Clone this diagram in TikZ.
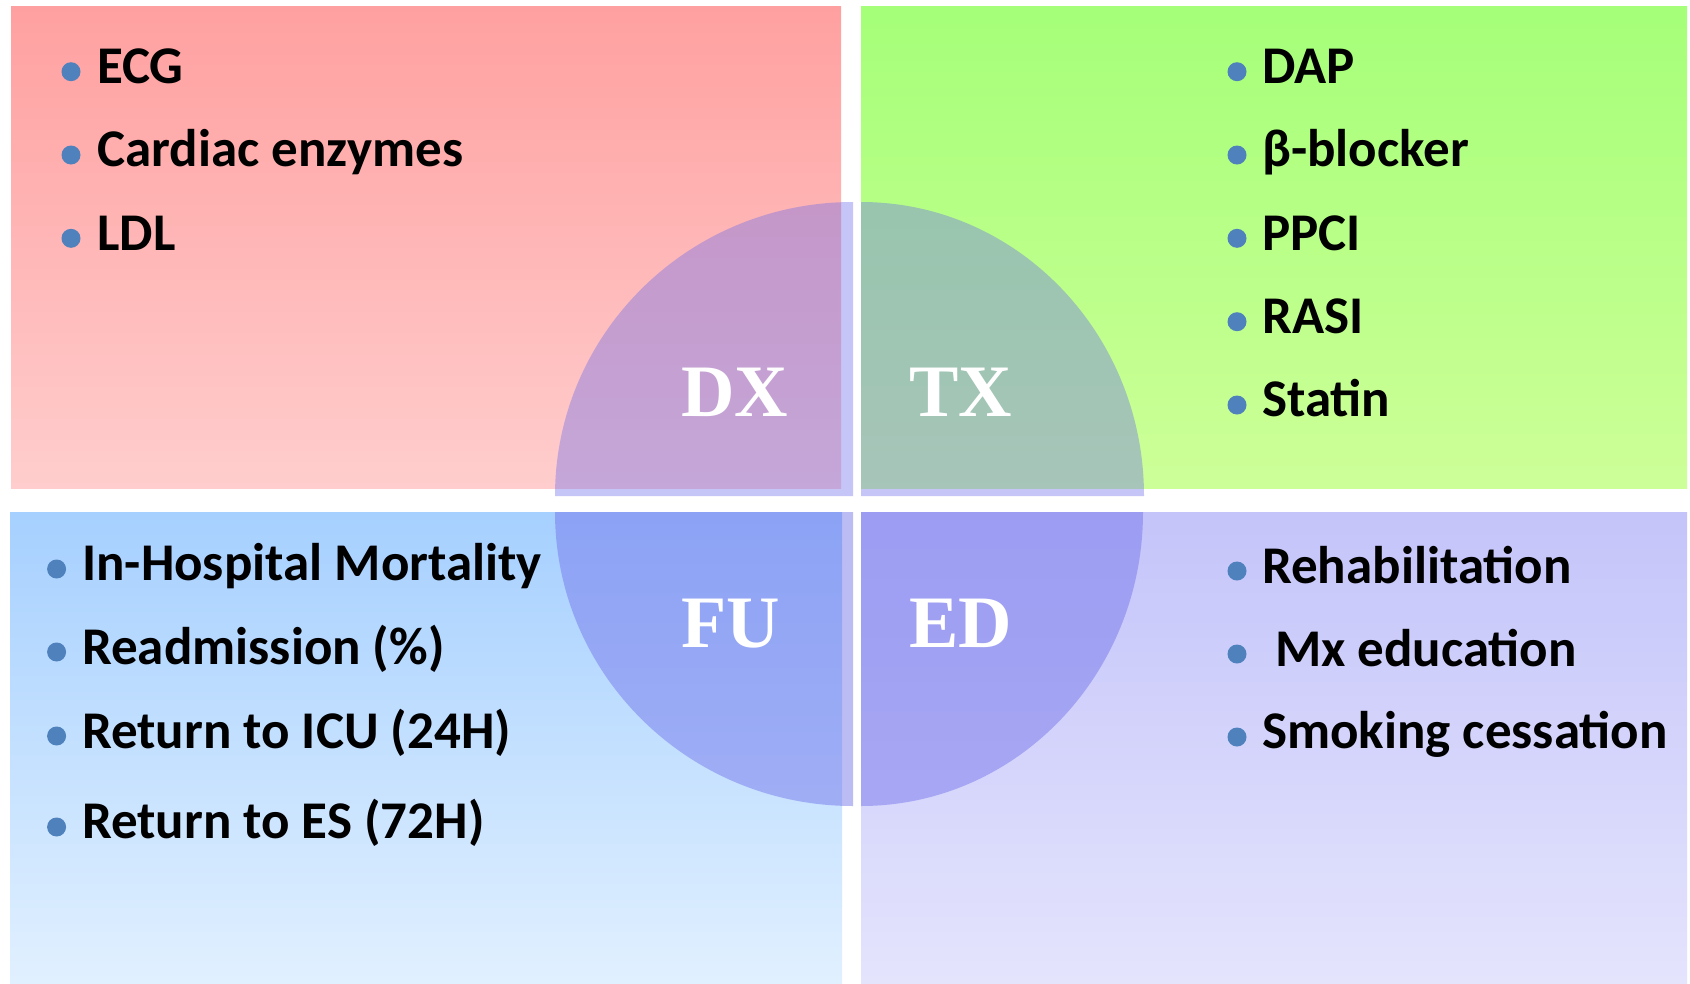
\documentclass[tikz,border=0pt]{standalone}
\usepackage{fontspec}
\setmainfont{Carlito}
\newfontfamily\labfont{Liberation Serif}
\definecolor{bulblue}{RGB}{79,129,189}
\definecolor{quadcol}{RGB}{110,110,235}
\definecolor{tlTop}{RGB}{255,160,160}
\definecolor{tlBot}{RGB}{255,205,205}
\definecolor{trTop}{RGB}{165,255,120}
\definecolor{trBot}{RGB}{205,255,152}
\definecolor{blTop}{RGB}{166,208,255}
\definecolor{blBot}{RGB}{225,240,255}
\definecolor{brTop}{RGB}{196,196,250}
\definecolor{brBot}{RGB}{228,228,253}
\begin{document}
\begin{tikzpicture}[x=1pt,y=-1pt,
  item/.style={anchor=base west, inner sep=0pt, font=\fontsize{53}{60}\selectfont\bfseries, text=black},
  bul/.style={circle, fill=bulblue, minimum size=19pt, inner sep=0pt},
  quad/.style={fill=quadcol, fill opacity=0.4},
  quadlow/.style={fill=quadcol, fill opacity=0.46},
  lab/.style={anchor=base west, inner sep=0pt, font=\labfont\fontsize{74}{80}\selectfont\bfseries, text=white}]
\useasboundingbox (0,0) rectangle (1690,983);
\fill[white] (0,0) rectangle (1690,983);
% quadrant panels
\shade[top color=tlTop, bottom color=tlBot] (11,6) rectangle (841,488);
\shade[top color=trTop, bottom color=trBot] (861,6) rectangle (1687,488);
\shade[top color=blTop, bottom color=blBot] (10,512) rectangle (842,983);
\shade[top color=brTop, bottom color=brBot] (861,512) rectangle (1687,983);
% central circle quarters
\fill[quad] (853,496) -- (555,496) arc[start angle=180, end angle=270, x radius=298, y radius=294] -- cycle;
\fill[quad] (861,496) -- (861,202) arc[start angle=270, end angle=360, x radius=283, y radius=294] -- cycle;
\fill[quadlow] (853,512) -- (555,512) arc[start angle=180, end angle=90, x radius=298, y radius=294] -- cycle;
\fill[quadlow] (861,512) -- (1143,512) arc[start angle=0, end angle=90, x radius=282, y radius=294] -- cycle;
% labels
\node[lab] (dx) at (681,416) {DX};
\node[lab] (tx) at (909,416) {TX};
\node[lab] (fu) at (681,647) {FU};
\node[lab] (ed) at (909,647) {ED};
% top-left list
\node[bul] (tlb1) at (71,71.7) {};
\node[item] (tl1) at (97,83.3) {ECG};
\node[bul] (tlb2) at (71,155) {};
\node[item] (tl2) at (97,166.7) {Cardiac enzymes};
\node[bul] (tlb3) at (71,238.3) {};
\node[item] (tl3) at (97,250) {LDL};
% top-right list
\node[bul] (trb1) at (1237,71.7) {};
\node[item] (tr1) at (1262,83.3) {DAP};
\node[bul] (trb2) at (1237,155) {};
\node[item] (tr2) at (1262,166.7) {β-blocker};
\node[bul] (trb3) at (1237,238.3) {};
\node[item] (tr3) at (1262,250) {PPCI};
\node[bul] (trb4) at (1237,321.7) {};
\node[item] (tr4) at (1262,333.3) {RASI};
\node[bul] (trb5) at (1237,405) {};
\node[item] (tr5) at (1262,416.7) {Statin};
% bottom-left list
\node[bul] (blb1) at (56.6,569) {};
\node[item] (bl1) at (82,580) {In-Hospital Mortality};
\node[bul] (blb2) at (56.6,652) {};
\node[item] (bl2) at (82,664) {Readmission (\%)};
\node[bul] (blb3) at (56.6,736) {};
\node[item] (bl3) at (82,748) {Return to ICU (24H)};
\node[bul] (blb4) at (56.6,827) {};
\node[item] (bl4) at (82,838) {Return to ES (72H)};
% bottom-right list
\node[bul] (brb1) at (1237,571) {};
\node[item] (br1) at (1262,583) {Rehabilitation};
\node[bul] (brb2) at (1237,654) {};
\node[item] (br2) at (1275,666) {Mx education};
\node[bul] (brb3) at (1237,737) {};
\node[item] (br3) at (1262,748) {Smoking cessation};
\end{tikzpicture}
\end{document}
